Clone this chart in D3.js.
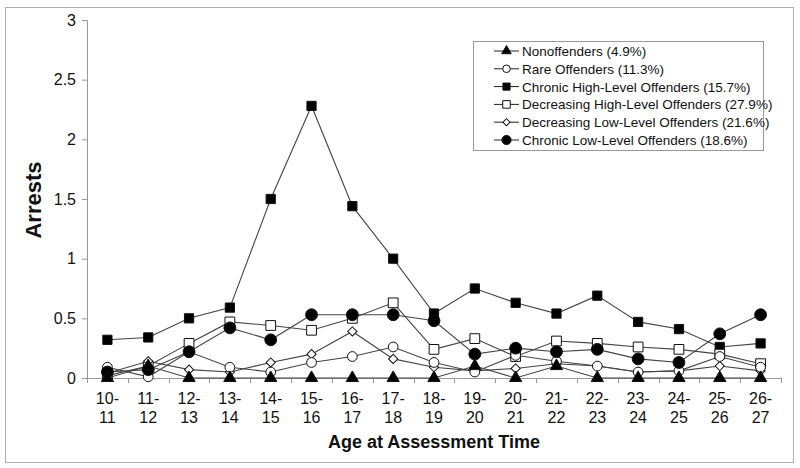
<!DOCTYPE html>
<html><head><meta charset="utf-8">
<script src="https://cdn.jsdelivr.net/npm/d3@7"></script>
<style>
body{margin:0;background:#fff;}
svg{display:block;font-family:"Liberation Sans",Arial,sans-serif;}
</style></head>
<body><svg id="c" width="800" height="468"></svg>
<script>
const categories = ["10-11","11-12","12-13","13-14","14-15","15-16","16-17","17-18","18-19","19-20","20-21","21-22","22-23","23-24","24-25","25-26","26-27"];
const yTicks = [0,0.5,1,1.5,2,2.5,3];
const seriesNames = ["Nonoffenders (4.9%)","Rare Offenders (11.3%)","Chronic High-Level Offenders (15.7%)","Decreasing High-Level Offenders (27.9%)","Decreasing Low-Level Offenders (21.6%)","Chronic Low-Level Offenders (18.6%)"];
const nonoffenders   = [0,0.1,0,0,0,0,0,0,0,0.1,0,0.1,0,0,0,0,0];
const rare           = [0.09,0.01,0.22,0.09,0.05,0.13,0.18,0.26,0.13,0.05,0.19,0.14,0.1,0.05,0.06,0.18,0.09];
const chronicHigh    = [0.32,0.34,0.5,0.59,1.5,2.28,1.44,1.0,0.54,0.75,0.63,0.54,0.69,0.47,0.41,0.26,0.29];
const decreasingHigh = [0.02,0.1,0.29,0.47,0.44,0.4,0.5,0.63,0.24,0.33,0.18,0.31,0.29,0.26,0.24,0.2,0.12];
const decreasingLow  = [0.04,0.14,0.07,0.05,0.13,0.2,0.39,0.16,0.09,0.06,0.08,0.12,0.1,0.05,0.06,0.1,0.06];
const chronicLow     = [0.05,0.07,0.22,0.42,0.32,0.53,0.53,0.53,0.48,0.2,0.25,0.22,0.24,0.16,0.13,0.37,0.53];

const series = [
  {name:seriesNames[0], values:nonoffenders, sym:d3.symbolTriangle, size:65, fill:"#000", rot:0},
  {name:seriesNames[1], values:rare, sym:d3.symbolCircle, size:75, fill:"#fff", rot:0},
  {name:seriesNames[2], values:chronicHigh, sym:d3.symbolSquare, size:85, fill:"#000", rot:0},
  {name:seriesNames[3], values:decreasingHigh, sym:d3.symbolSquare, size:95, fill:"#fff", rot:0},
  {name:seriesNames[4], values:decreasingLow, sym:d3.symbolSquare, size:42, fill:"#fff", rot:45},
  {name:seriesNames[5], values:chronicLow, sym:d3.symbolCircle, size:110, fill:"#000", rot:0}
];

const svg = d3.select("#c");
svg.append("rect").attr("x",5.5).attr("y",7.5).attr("width",788).attr("height",455)
  .attr("fill","none").attr("stroke","#b0b0b0").attr("stroke-width",1);

const x0=87, x1=781, yTop=20, yBot=378;
const x = d3.scaleBand().domain(categories).range([x0,x1]);
const y = d3.scaleLinear().domain([0,3]).range([yBot,yTop]);

const yAxis = svg.append("g").attr("transform",`translate(${x0},0)`)
  .call(d3.axisLeft(y).tickValues(yTicks).tickSize(5).tickPadding(6).tickFormat(d3.format("~g")));
yAxis.select(".domain").attr("stroke","#999");
yAxis.selectAll(".tick line").attr("stroke","#999");
yAxis.selectAll("text").attr("font-size",16).attr("fill","#111").attr("font-family","Liberation Sans, Arial, sans-serif");

const xa = svg.append("g");
xa.append("line").attr("x1",x0).attr("x2",x1).attr("y1",yBot+0.5).attr("y2",yBot+0.5).attr("stroke","#999");
const bounds = categories.map(c=>x(c)).concat([x1]);
xa.selectAll("line.t").data(bounds).join("line").attr("class","t")
  .attr("x1",d=>Math.round(d)+0.5).attr("x2",d=>Math.round(d)+0.5)
  .attr("y1",yBot).attr("y2",yBot+5).attr("stroke","#999");
const lbl = xa.selectAll("text.l").data(categories).join("text").attr("class","l")
  .attr("text-anchor","middle").attr("font-size",16).attr("fill","#111");
lbl.append("tspan").attr("x",d=>x(d)+x.bandwidth()/2).attr("y",404).text(d=>d.split("-")[0]+"-");
lbl.append("tspan").attr("x",d=>x(d)+x.bandwidth()/2).attr("y",423).text(d=>d.split("-")[1]);

svg.append("text").attr("x",434).attr("y",448).attr("text-anchor","middle")
  .attr("font-size",18).attr("font-weight","bold").attr("fill","#111").text("Age at Assessment Time");
svg.append("text").attr("transform","translate(41,200) rotate(-90)").attr("text-anchor","middle")
  .attr("font-size",22).attr("font-weight","bold").attr("fill","#111").text("Arrests");

const cx = c => x(c)+x.bandwidth()/2;
const line = d3.line().x((d,i)=>cx(categories[i])).y(d=>y(d));
const drawOrder = [2,3,4,1,5,0];
drawOrder.forEach(k=>{
  const s=series[k];
  svg.append("path").datum(s.values).attr("d",line).attr("fill","none").attr("stroke","#444").attr("stroke-width",1.1);
});
drawOrder.forEach(k=>{
  const s=series[k];
  const sym=d3.symbol().type(s.sym).size(s.size);
  svg.append("g").selectAll("path").data(s.values).join("path")
    .attr("transform",(d,i)=>`translate(${cx(categories[i])},${y(d)}) rotate(${s.rot})`)
    .attr("d",sym).attr("fill",s.fill).attr("stroke","#111").attr("stroke-width",1);
});

const lg = svg.append("g");
lg.append("rect").attr("x",473.5).attr("y",41.5).attr("width",290).attr("height",109)
  .attr("fill","#fff").attr("stroke","#999");
series.forEach((s,i)=>{
  const yy=51+i*17.8;
  lg.append("line").attr("x1",494).attr("x2",519).attr("y1",yy).attr("y2",yy).attr("stroke","#222");
  lg.append("path").attr("transform",`translate(506.5,${yy}) rotate(${s.rot})`)
    .attr("d",d3.symbol().type(s.sym).size(s.size*0.6)).attr("fill",s.fill).attr("stroke","#111");
  lg.append("text").attr("x",522).attr("y",yy+5).attr("font-size",13.5).attr("fill","#111").text(s.name);
});
</script></body></html>
